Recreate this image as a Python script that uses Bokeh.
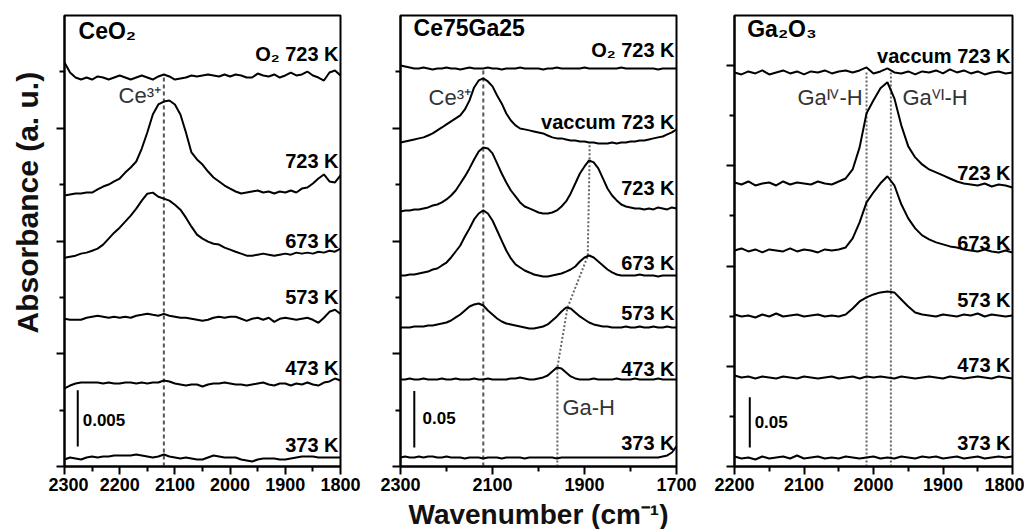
import numpy as np
from bokeh.plotting import figure
from bokeh.layouts import row, column
from bokeh.models import FixedTicker, Range1d
from bokeh.core.properties import value
from bokeh.embed import file_html
from bokeh.resources import INLINE

FONT = "Liberation Sans"

# ---------------------------------------------------------------
# DATA  (absorbance in mAbs = 1e-3 a.u.; spectra relative to their baseline)
# ---------------------------------------------------------------
# Panel A : CeO2, 2300 -> 1800 cm-1 every 10 cm-1
ceo2_wn = np.arange(2300, 1799, -10)
ceo2_names = ["O₂ 723 K", "723 K", "673 K", "573 K", "473 K", "373 K"]
ceo2_offsets = [34.5, 24.3, 18.7, 13.1, 7.36, 0.71]
ceo2_label_y = [36.6, 27.1, 20.0, 15.0, 8.7, 1.95]
ceo2_o2_723 = [1.33, 0.44, 0, -0.18, 0, -0.18, 0.09, 0, -0.18, 0, 0.18, 0, -0.18, 0, 0.18, 0, -0.18,
               0.09, 0.27, 0.09, -0.18, -0.09, 0, 0.18, 0.09, 0.18, 0.27, 0.18, 0.09, 0.27, 0.09, 0.27,
               0.18, 0, 0, 0.35, 0.18, 0.09, 0.27, 0, 0.18, 0.44, 0.18, 0.27, 0.53, 0.18, 0, -0.27, 0.44,
               0.62, 0.18]
ceo2_723 = [-0.27, -0.18, -0.09, -0.09, 0, 0, 0.27, 0.53, 0.71, 0.98, 1.24, 1.77, 2.22, 2.75, 3.90, 5.32,
            6.92, 7.81, 8.07, 8.16, 7.81, 6.92, 5.32, 3.55, 2.93, 2.48, 1.86, 1.33, 0.98, 0.62, 0.35, 0.09,
            -0.09, 0, 0.09, 0.18, 0, 0.09, -0.09, 0.09, 0, 0.18, 0, 0.35, 0.44, 0.80, 1.24, 1.60, 0.98,
            0.89, 1.51]
ceo2_673 = [-0.18, -0.09, 0, 0.18, 0.27, 0.44, 0.62, 0.98, 1.51, 2.04, 2.48, 3.02, 3.55, 4.17, 4.88, 5.50,
            5.59, 5.23, 5.06, 4.88, 4.52, 4.08, 3.37, 2.57, 1.86, 1.51, 1.24, 1.06, 0.98, 0.71, 0.53, 0.35,
            0.18, 0, 0, 0.09, 0.18, 0.09, 0, 0.09, 0.18, 0.09, 0.27, 0.18, 0.27, 0.18, 0.35, 0.27, 0.44,
            0.35, 0.62]
ceo2_573 = [0, -0.09, -0.09, -0.09, 0.09, 0.18, 0.27, 0.18, 0.09, 0.18, 0.09, 0.18, 0.09, 0.27, 0.35, 0.44,
            0.35, 0.27, 0.44, 0.27, 0.18, 0.09, 0.09, 0, -0.09, -0.18, -0.09, 0.09, 0.18, 0.09, 0.18, 0.18,
            0, -0.18, 0, 0.09, -0.09, 0.09, -0.27, 0, 0.09, 0, -0.09, 0, 0.09, -0.09, -0.35, 0.09, 0.62,
            0.80, 0.44]
ceo2_473 = [-0.44, -0.18, 0, 0.09, 0.09, 0.09, 0.09, 0, 0.09, 0, 0, 0.09, 0.09, 0, 0.09, 0, 0.09, 0.09,
            0.27, 0.18, 0, -0.09, -0.18, -0.09, -0.09, -0.27, -0.09, 0, 0, 0.09, 0, -0.09, -0.09, -0.18,
            -0.09, 0, 0.09, -0.09, -0.18, 0, 0, -0.18, 0, -0.09, 0.09, -0.09, -0.18, 0.09, 0.18, 0.44, 0.27]
ceo2_373 = [-0.09, 0.09, 0, -0.09, 0.09, 0.18, 0.09, 0.18, 0.18, 0.27, 0.27, 0.27, 0.27, 0.35, 0.27, 0.18,
            0.09, 0.18, 0.35, 0.18, 0.09, 0, 0.09, 0, -0.09, -0.09, 0.09, 0.27, 0.18, 0.09, 0.09, 0.09,
            -0.09, -0.18, -0.27, -0.09, 0, 0, 0, -0.09, -0.09, 0, 0.09, 0.18, 0.18, 0.18, 0.09, 0.09, 0.09,
            0.09, 0.09]

# Panel B : Ce75Ga25, 2300 -> 1700 cm-1 every 10 cm-1
cega_wn = np.arange(2300, 1699, -10)
cega_names = ["O₂ 723 K", "vaccum 723 K", "723 K", "673 K", "573 K", "473 K", "373 K"]
cega_offsets = [353.0, 289.2, 227.1, 169.4, 123.3, 77.2, 8.0]
cega_label_y = [369.5, 305.1, 246.6, 180.9, 135.7, 86.1, 20.4]
cega_o2_723 = [2.7, 1.8, 0.9, 0, 0, 0.9, 0, -0.9, 0, 0, 0.9, 0, 0, -0.9, 0, 0.9, 0, 0, 0, 0.9,
               0, 0, -0.9, 0, 0, 0, 0.9, 0, 0, 0, 0, -0.9, 0, 0, 0.9, 0, 0, 0, 0, 0,
               0.9, 0, 0, 0, 0, 0, 0, 0, 0.9, 0, 0, 0, 0, 0, 0, 0, -0.9, 0, 0, 0, 0]
cega_vac_723 = [-1.8, -0.9, 0, 0.9, 1.8, 2.7, 4.4, 6.2, 8.9, 11.5, 14.2, 16.9, 19.5, 22.2, 27.5, 35.5,
                47.0, 53.2, 55.0, 52.3, 47.9, 39.9, 32.8, 23.9, 17.7, 13.3, 10.6, 9.8, 8.9, 8.0,
                7.1, 6.2, 4.4, 2.7, 1.8, 1.8, 0.9, 0, 0, -0.9, -0.9, -1.8, -1.8, -2.7, -2.7, -2.7,
                -1.8, -2.7, -1.8, -1.8, -0.9, -0.9, 0, 0, 0.9, 1.8, 2.7, 3.5, 5.3, 7.1, 9.8]
cega_723 = [-0.9, 0, 0, 0.9, 0.9, 1.8, 2.7, 4.4, 5.3, 7.1, 9.8, 13.3, 17.7, 23.9, 30.2, 37.3, 45.2,
            52.3, 55.9, 55.0, 50.6, 41.7, 32.8, 24.8, 17.7, 12.4, 7.1, 3.5, 1.8, 0, -1.8, -2.7, -2.7,
            -1.8, 0, 3.5, 8.0, 15.1, 23.9, 32.8, 39.0, 44.4, 42.6, 37.3, 28.4, 19.5, 13.3, 8.9, 5.3,
            3.5, 2.7, 1.8, 1.8, 0.9, 1.8, 0.9, 2.7, 1.8, 0.9, 2.7, 1.8]
cega_673 = [0, 0, 0.9, 0.9, 1.8, 2.7, 3.5, 5.3, 6.2, 8.9, 11.5, 16.0, 21.3, 26.6, 34.6, 41.7, 49.7,
            55.0, 57.7, 55.0, 48.8, 39.9, 31.0, 22.2, 15.1, 9.8, 7.1, 4.4, 2.7, 0.9, 0, -0.9, -0.9,
            0, 0.9, 1.8, 3.5, 5.3, 8.0, 12.4, 16.0, 17.7, 16.0, 12.4, 8.9, 5.3, 2.7, 0.9, 0, 0,
            0, 0, 0.9, 0, 0, 0, -0.9, 0, 0, 0, 0]
cega_573 = [0, 0, 0, 0.9, 0.9, 0.9, 1.8, 1.8, 2.7, 3.5, 4.4, 6.2, 8.9, 11.5, 15.1, 18.6, 20.4, 21.3,
            19.5, 15.1, 11.5, 8.0, 5.3, 3.5, 2.7, 1.8, 0.9, 0, -0.9, -0.9, 0, 0.9, 2.7, 6.2, 9.8,
            14.2, 17.7, 16.9, 13.3, 9.8, 7.1, 4.4, 2.7, 1.8, 0.9, 0.9, 0, 0, 0, 0.9, 0, 0, 0.9, 0,
            0, 0.9, 0, 0, 0.9, 0, 0]
cega_473 = [0, 0, 0.9, 0, 0, 0.9, 0, 0, 0, 0.9, 0, 0, 0.9, 0, 0, 0, 0.9, 0, 0, 0.9, 0, 0, 0, 0,
            0.9, 0.9, 1.8, 0.9, 0, 0, 0.9, 1.8, 3.5, 7.1, 10.6, 9.8, 6.2, 2.7, 0.9, 0, 0, 0, 0.9,
            0, 0, 0, 0, 0.9, 0, 0, 0, 0.9, 0, 0, 0, 0, 0.9, 0, 0, 0, 0]
cega_373 = [0, 0.9, 0, 0, 0.9, 0, 0.9, 0.9, 0, 0, 0.9, 0, 0, 0, -0.9, 0, 0, 0, -0.9, 0, 0, 0,
            -0.9, 0, 0, 0, 0, -0.9, 0, 0, 0, 0, 0, 0, -0.9, 0, 0, 0, 0, 0, 0, 0, 0, 0, 0, 0, 0,
            0, 0, 0, 0, 0, 0, 0, 0, 0, 0, 0.9, 1.8, 4.4, 9.8]

# Panel C : Ga2O3, 2200 -> 1800 cm-1 every 10 cm-1
ga_wn = np.arange(2200, 1799, -10)
ga_names = ["vaccum 723 K", "723 K", "673 K", "573 K", "473 K", "373 K"]
ga_offsets = [393.2, 282.4, 215.6, 150.7, 88.8, 9.0]
ga_label_y = [410.0, 293.0, 223.0, 166.0, 101.0, 23.0]
ga_vac_723 = [0, -2, 1, -1, 2, -2, 0, 2, -1, 1, -2, 1, 0, 2, -1, 1, 2, 0, 2, 5, -1, 1, 4, 0, -1, 1,
              -2, 1, 0, 2, -1, 3, 0, 2, -1, 1, -2, 0, 1, -1, 0]
ga_723 = [1, -1, 2, -2, 0, 1, -2, 2, -1, 1, 0, -1, 2, 0, -1, 2, 5, 14, 36, 70, 83, 95, 101, 85, 58,
          37, 26, 19, 14, 11, 8, 5, 2, 0, -1, -2, 0, -3, -1, -2, -4]
ga_673 = [0, 2, -1, 1, -2, 1, 0, -1, 2, -1, 1, 0, -2, 1, 0, 1, 3, 12, 28, 48, 58, 67, 74, 65, 46, 32,
          22, 15, 11, 8, 6, 4, 3, 1, 0, -1, 1, -1, -2, 0, -2]
ga_573 = [1, -1, 0, -2, 1, -1, 2, -1, 0, 1, -1, 0, 1, -1, 0, -1, 1, 7, 14, 18, 21, 23, 24, 23, 16, 9,
          3, 1, 0, -1, 1, 0, -1, 1, 0, 2, -1, 1, 0, -1, 0]
ga_473 = [2, 0, 1, -1, 1, 0, -1, 1, 0, -1, 1, 0, -1, 0, 1, -1, 0, 1, -1, 1, 0, 1, 0, -1, 1, 0, -1,
          0, 1, 0, -1, 1, 0, -1, 0, 1, 0, -1, 1, 0, -1]
ga_373 = [1, -1, 0, -2, 1, -1, 0, 1, -1, 2, -1, 0, 1, -1, 0, -1, 1, 0, -1, 0, 1, -1, 0, -1, 1, 0, -1,
          1, 0, 1, -1, 0, 1, -1, 0, 1, -1, 0, 1, 0, 1]

# Band positions (cm-1)
ce3_band = 2120
gah_band_path = [1959, 1937, 1893, 1889]          # Ga-H shift with temperature (473 -> 723 K)
ga_iv_band, ga_vi_band = 2010, 1975

Y_TITLE = "Absorbance (a. u.)"
X_TITLE = "Wavenumber (cm⁻¹)"

# ---------------------------------------------------------------
H_MAIN = 498
B_TOP, B_BOTTOM = 15, 32
H_XTITLE = 31


def make_panel(width, bl, br, xr, yr, xmaj, xmin, ymaj, ymin):
    p = figure(width=width, height=H_MAIN, x_range=Range1d(*xr), y_range=Range1d(*yr),
               output_backend="svg", toolbar_location=None,
               min_border_left=bl, min_border_right=br, min_border_top=B_TOP,
               min_border_bottom=B_BOTTOM)
    p.grid.grid_line_color = None
    p.outline_line_color = "black"
    p.outline_line_width = 2
    p.outline_line_alpha = 1
    p.background_fill_color = "white"
    p.border_fill_color = "white"
    p.xaxis.ticker = FixedTicker(ticks=xmaj, minor_ticks=xmin)
    p.yaxis.ticker = FixedTicker(ticks=ymaj, minor_ticks=ymin)
    for ax in (p.xaxis[0], p.yaxis[0]):
        ax.axis_line_width = 2
        ax.axis_line_color = "black"
        ax.major_tick_line_width = 2
        ax.minor_tick_line_width = 2
        ax.major_tick_in = 0
        ax.major_tick_out = 8
        ax.minor_tick_in = 0
        ax.minor_tick_out = 5
    p.xaxis.major_label_text_font = FONT
    p.xaxis.major_label_text_font_style = "bold"
    p.xaxis.major_label_text_font_size = "18px"
    p.xaxis.major_label_text_color = "black"
    p.xaxis.major_label_standoff = 3
    p.yaxis.major_label_overrides = {t: "" for t in ymaj}
    p.yaxis.major_label_standoff = 0
    return p


def bare(width, height, y_range=None, top=0, bottom=0):
    p = figure(width=width, height=height, x_range=Range1d(0, 1),
               y_range=y_range if y_range is not None else Range1d(0, 1),
               output_backend="svg", toolbar_location=None,
               x_axis_location=None, y_axis_location=None,
               min_border_left=0, min_border_right=0, min_border_top=top, min_border_bottom=bottom)
    p.grid.grid_line_color = None
    p.outline_line_color = None
    p.background_fill_color = "white"
    p.border_fill_color = "white"
    return p


def at(wn, series, offset, w):
    return offset + float(np.interp(w, wn[::-1], np.asarray(series, dtype=float)[::-1]))


def draw_stack(p, wn, series_list, offsets, names, label_y, x_end, fs="20px"):
    for s, off in zip(series_list, offsets):
        p.line(wn, np.asarray(s, dtype=float) + off, line_color="black", line_width=2)
    p.text(x=[x_end] * len(names), y=label_y, text=names, text_align="right",
           text_baseline="middle", text_font=value(FONT), text_font_style="bold",
           text_font_size=fs, text_color="black", x_offset=-2)


def note(p, x, y, t, size="22px", bold=False, color="#333333", align="left", angle=0.0):
    p.text(x=[x], y=[y], text=[t], text_align=align, text_baseline="middle",
           text_font=value(FONT), text_font_style="bold" if bold else "normal",
           text_font_size=size, text_color=color, angle=angle)


DASH = dict(line_color="#555555", line_width=2, line_dash="4 3")
DOT = dict(line_color="#666666", line_width=2, line_dash="2 2")

# ---------------- Panel A ----------------
p1 = make_panel(322, 16, 30, (2300, 1800), (0, 40),
                [2300, 2200, 2100, 2000, 1900, 1800], [2250, 2150, 2050, 1950, 1850],
                [0, 10, 20, 30], [5, 15, 25, 35])
ceo2_series = [ceo2_o2_723, ceo2_723, ceo2_673, ceo2_573, ceo2_473, ceo2_373]
p1.segment(x0=[ce3_band], y0=[0], x1=[ce3_band],
           y1=[at(ceo2_wn, ceo2_o2_723, ceo2_offsets[0], ce3_band)], **DASH)
draw_stack(p1, ceo2_wn, ceo2_series, ceo2_offsets, ceo2_names, ceo2_label_y, 1800)
note(p1, 2202, 32.9, "Ce³⁺")
note(p1, 2274.6, 38.6, "CeO₂", size="23px", bold=True, color="black")
p1.segment(x0=[2276], y0=[1.77], x1=[2276], y1=[6.77], line_color="black", line_width=2)
note(p1, 2267, 4.1, "0.005", size="17px", bold=True, color="black")

# y-axis title strip, sharing panel A's vertical scale
py = bare(48, H_MAIN, y_range=p1.y_range, top=B_TOP, bottom=B_BOTTOM)
note(py, 0.5625, 23.4, Y_TITLE, size="30px", bold=True, color="#111111", align="center",
     angle=np.pi / 2)

# ---------------- Panel B ----------------
p2 = make_panel(335, 30, 29, (2300, 1700), (0, 400),
                [2300, 2100, 1900, 1700], [2200, 2000, 1800],
                [0, 100, 200, 300], [50, 150, 250, 350])
cega_series = [cega_o2_723, cega_vac_723, cega_723, cega_673, cega_573, cega_473, cega_373]
p2.segment(x0=[ce3_band], y0=[0], x1=[ce3_band],
           y1=[at(cega_wn, cega_o2_723, cega_offsets[0], ce3_band)], **DASH)
gah_x = [gah_band_path[0]] + gah_band_path + [gah_band_path[-1]]
gah_y = [0,
         at(cega_wn, cega_473, cega_offsets[5], gah_band_path[0]),
         at(cega_wn, cega_573, cega_offsets[4], gah_band_path[1]),
         at(cega_wn, cega_673, cega_offsets[3], gah_band_path[2]),
         at(cega_wn, cega_723, cega_offsets[2], gah_band_path[3]),
         at(cega_wn, cega_vac_723, cega_offsets[1], gah_band_path[3])]
p2.line(gah_x, gah_y, **DOT)
draw_stack(p2, cega_wn, cega_series, cega_offsets, cega_names, cega_label_y, 1700)
note(p2, 2239, 327, "Ce³⁺")
note(p2, 1948, 52.3, "Ga-H")
note(p2, 2271.7, 388.5, "Ce75Ga25", size="23px", bold=True, color="black")
p2.segment(x0=[2270], y0=[16.9], x1=[2270], y1=[66.9], line_color="black", line_width=2)
note(p2, 2252, 42.6, "0.05", size="17px", bold=True, color="black")

# ---------------- Panel C ----------------
p3 = make_panel(319, 29, 12, (2200, 1800), (0, 450),
                [2200, 2100, 2000, 1900, 1800], [2150, 2050, 1950, 1850],
                [0, 100, 200, 300, 400], [50, 150, 250, 350])
ga_series = [ga_vac_723, ga_723, ga_673, ga_573, ga_473, ga_373]
for band in (ga_iv_band, ga_vi_band):
    p3.segment(x0=[band], y0=[0], x1=[band], y1=[ga_offsets[0]], **DOT)
draw_stack(p3, ga_wn, ga_series, ga_offsets, ga_names, ga_label_y, 1800)
note(p3, 2109.4, 368, "Gaᴵⱽ-H")
note(p3, 1958.3, 368, "Gaⱽᴵ-H")
note(p3, 2181.7, 437, "Ga₂O₃", size="23px", bold=True, color="black")
p3.segment(x0=[2178], y0=[19], x1=[2178], y1=[69], line_color="black", line_width=2)
note(p3, 2171, 44, "0.05", size="17px", bold=True, color="black")

# x-axis title strip
px = bare(1024, H_XTITLE)
note(px, 0.5254, 0.48, X_TITLE, size="28px", bold=True, color="#111111", align="center")

layout = column(row(py, p1, p2, p3), px)
open("out.html", "w").write(file_html(layout, INLINE))
